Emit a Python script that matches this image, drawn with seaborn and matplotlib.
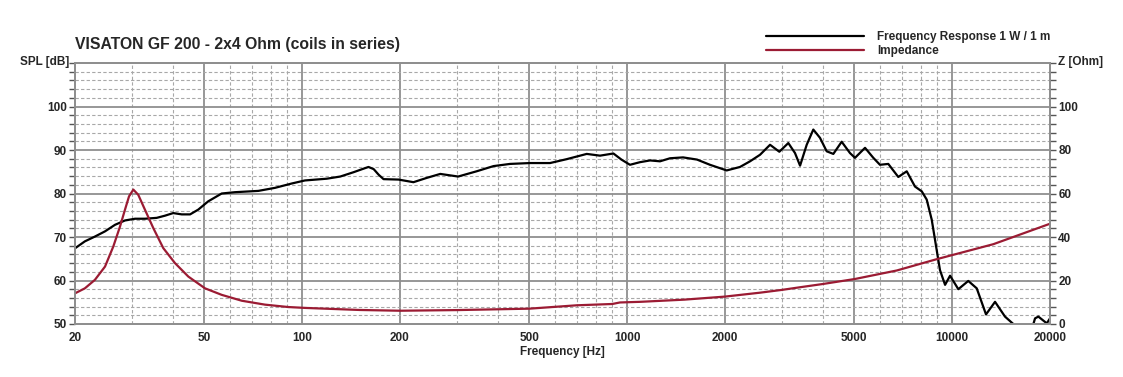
import numpy as np
import pandas as pd
import matplotlib
matplotlib.use("Agg")
import matplotlib.pyplot as plt
import matplotlib.ticker as mticker
import seaborn as sns

# frequency response 1 W / 1 m (dB)
spl_freq = [20, 21.45, 23.03, 24.74, 26.55, 28.49, 30.6, 32.84, 35.67, 37.83, 40.1, 42.6,
            45.2, 47.9, 51.4, 56.55, 62.1, 73.3, 82.5, 92.9, 102, 119, 131, 144, 153, 160,
            166, 172, 178, 198, 220, 242, 266, 302, 344, 388, 436, 502, 579, 652, 751, 825,
            907, 960, 1020, 1095, 1176, 1262, 1355, 1486, 1640, 1798, 2024, 2224, 2388,
            2563, 2752, 2939, 3132, 3284, 3404, 3568, 3739, 3920, 4111, 4309, 4571, 4848,
            5024, 5394, 5720, 5996, 6360, 6827, 7248, 7684, 8061, 8350, 8651, 9172, 9510,
            9852, 10445, 11210, 11902, 12710, 13550, 14540, 15420, 16500, 17300, 17990,
            18420, 19550, 20000]
spl_db = [67.4, 69.0, 70.1, 71.3, 72.8, 73.8, 74.2, 74.2, 74.4, 74.9, 75.5, 75.2,
          75.2, 76.3, 78.2, 80.0, 80.3, 80.6, 81.3, 82.3, 83.0, 83.4, 83.9, 84.9, 85.6, 86.1,
          85.6, 84.3, 83.3, 83.2, 82.6, 83.6, 84.5, 83.9, 85.1, 86.3, 86.8, 87.0, 87.0, 87.9,
          89.1, 88.7, 89.2, 87.8, 86.6, 87.2, 87.6, 87.4, 88.1, 88.3, 87.8, 86.6, 85.3, 86.1,
          87.4, 88.9, 91.2, 89.6, 91.6, 89.3, 86.4, 91.2, 94.7, 92.8, 89.7, 89.1, 91.9, 89.3,
          88.2, 90.5, 88.2, 86.6, 86.8, 83.8, 85.1, 81.6, 80.5, 78.6, 74.0, 62.4, 59.0,
          61.1, 58.0, 59.9, 58.2, 52.2, 55.1, 51.7, 50.0, 46.0, 47.0, 51.3,
          51.7, 50.15, 51.3]

# impedance (Ohm)
imp_freq = [20, 21.45, 23.03, 24.74, 26.23, 27.51, 28.49, 29.33, 30.24, 31.31, 32.84, 34.83,
            37.38, 40.61, 44.64, 50.24, 56.55, 65.17, 76.83, 90.64, 102, 150, 200, 300, 500,
            700, 900, 950, 1100, 1500, 2000, 2563, 3000, 3404, 4004, 5024, 6752, 8962,
            13390, 20000]
imp_ohm = [14.1, 16.4, 20.3, 26.4, 35.6, 44.8, 52.5, 58.7, 61.8, 59.4, 52.5, 44.1,
           34.9, 28.0, 21.8, 16.4, 13.4, 10.7, 8.9, 7.8, 7.4, 6.45, 6.1, 6.4, 7.05,
           8.6, 9.2, 9.9, 10.2, 11.2, 12.6, 14.4, 15.7, 16.9, 18.4, 20.7, 24.6, 29.8,
           36.7, 46.1]

x_major = [20, 50, 100, 200, 500, 1000, 2000, 5000, 10000, 20000]
x_minor = [30, 40, 60, 70, 80, 90, 300, 400, 600, 700, 800, 900,
           3000, 4000, 6000, 7000, 8000, 9000]

spl_df = pd.DataFrame({"freq": spl_freq, "spl": spl_db})
imp_df = pd.DataFrame({"freq": imp_freq, "imp": imp_ohm})

sns.set_style("white")
plt.rcParams["font.family"] = ["Liberation Sans", "DejaVu Sans"]
plt.rcParams["font.weight"] = "bold"

red = "#9b1b33"
grid_c = "#8f8f8f"

fig = plt.figure(figsize=(11.23, 3.77), dpi=100)
ax = fig.add_axes([75/1123, 1 - 324/377, 975/1123, 261/377])
ax2 = ax.twinx()

sns.lineplot(data=spl_df, x="freq", y="spl", ax=ax, color="black", lw=1.6,
             label="Frequency Response 1 W / 1 m", legend=False)
sns.lineplot(data=imp_df, x="freq", y="imp", ax=ax2, color=red, lw=1.6,
             label="Impedance", legend=False)

ax.set_xscale("log")
ax.set_xlim(20, 20000)
ax.set_ylim(50, 110)
ax2.set_ylim(0, 120)

ax.xaxis.set_major_locator(mticker.FixedLocator(x_major))
ax.xaxis.set_minor_locator(mticker.FixedLocator(x_minor))
ax.xaxis.set_major_formatter(mticker.FixedFormatter([str(v) for v in x_major]))
ax.xaxis.set_minor_formatter(mticker.NullFormatter())

ax.yaxis.set_major_locator(mticker.MultipleLocator(10))
ax.yaxis.set_minor_locator(mticker.MultipleLocator(2))
ax.yaxis.set_major_formatter(mticker.FuncFormatter(lambda v, p: "" if v > 100 else f"{v:.0f}"))
ax2.yaxis.set_major_locator(mticker.MultipleLocator(20))
ax2.yaxis.set_minor_locator(mticker.MultipleLocator(4))
ax2.yaxis.set_major_formatter(mticker.FuncFormatter(lambda v, p: "" if v > 100 else f"{v:.0f}"))

ax.grid(True, which="major", color=grid_c, lw=1.3, ls="-")
ax.grid(True, which="minor", color="#a8a8a8", lw=0.8, ls=(0, (3, 2)))
ax2.grid(False)
ax.set_axisbelow(True)

for a in (ax, ax2):
    for s in a.spines.values():
        s.set_color(grid_c)
        s.set_linewidth(1.3)
    a.tick_params(which="both", direction="out", length=4, width=1, color="#555555",
                  labelsize=8.5, pad=2)
    a.set_xlabel("")
    a.set_ylabel("")

ax.set_xlabel("Frequency [Hz]", fontsize=8.5, fontweight="bold", labelpad=1)

fig.text(75/1123, 1 - 44/377, "VISATON GF 200 - 2x4 Ohm (coils in series)",
         fontsize=11.3, fontweight="bold", ha="left", va="center")
fig.text(69/1123, 1 - 62/377, "SPL [dB]", fontsize=8.5, fontweight="bold",
         ha="right", va="center")
fig.text(1058/1123, 1 - 62/377, "Z [Ohm]", fontsize=8.5, fontweight="bold",
         ha="left", va="center")

h1, l1 = ax.get_legend_handles_labels()
h2, l2 = ax2.get_legend_handles_labels()
fig.legend(h1 + h2, l1 + l2, loc="upper left", bbox_to_anchor=(766/1123, 1 - 31/377),
           frameon=False, fontsize=8.5, handlelength=8.3, handletextpad=1.1,
           labelspacing=0.15, borderpad=0, borderaxespad=0)

fig.savefig("out.png", dpi=100)
